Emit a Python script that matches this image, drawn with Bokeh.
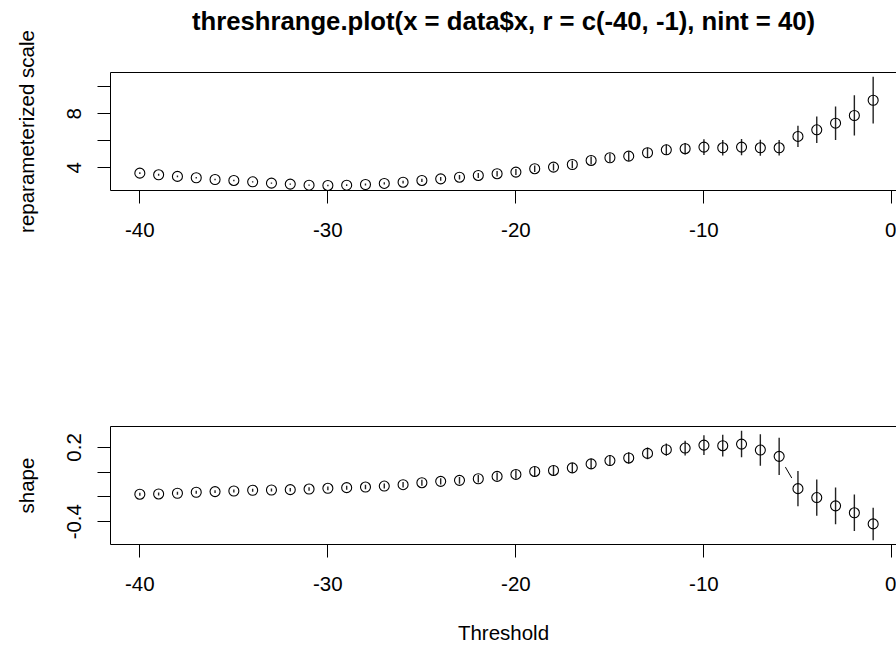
from bokeh.plotting import figure
from bokeh.models import LinearAxis, FixedTicker, Range1d
from bokeh.layouts import column
from bokeh.embed import file_html
from bokeh.resources import INLINE

# ---------------- data ----------------
thresholds = list(range(-40, 0))

scale_est = [3.60, 3.48, 3.36, 3.26, 3.13, 3.06, 2.96, 2.86, 2.79, 2.71,
             2.69, 2.71, 2.76, 2.84, 2.93, 3.06, 3.18, 3.30, 3.43, 3.56,
             3.68, 3.93, 4.05, 4.24, 4.54, 4.74, 4.86, 5.11, 5.33, 5.41,
             5.53, 5.48, 5.53, 5.48, 5.48, 6.32, 6.81, 7.30, 7.87, 9.00]
scale_hw = [0.07, 0.07, 0.06, 0.06, 0.06, 0.06, 0.05, 0.05, 0.05, 0.05,
            0.05, 0.06, 0.07, 0.08, 0.10, 0.12, 0.14, 0.16, 0.18, 0.20,
            0.22, 0.24, 0.26, 0.28, 0.30, 0.32, 0.34, 0.37, 0.39, 0.42,
            0.58, 0.58, 0.60, 0.59, 0.58, 0.79, 0.98, 1.24, 1.49, 1.73]

shape_est = [-0.178, -0.176, -0.170, -0.162, -0.157, -0.152, -0.146, -0.144, -0.141, -0.136,
             -0.130, -0.125, -0.120, -0.112, -0.101, -0.085, -0.074, -0.066, -0.053, -0.034,
             -0.018, 0.006, 0.014, 0.035, 0.067, 0.094, 0.115, 0.152, 0.182, 0.195,
             0.219, 0.214, 0.227, 0.179, 0.128, -0.133, -0.205, -0.272, -0.328, -0.418]
shape_hw = [0.012, 0.012, 0.012, 0.012, 0.012, 0.012, 0.013, 0.013, 0.014, 0.014,
            0.015, 0.016, 0.018, 0.020, 0.022, 0.024, 0.026, 0.028, 0.030, 0.032,
            0.034, 0.036, 0.038, 0.040, 0.042, 0.044, 0.046, 0.048, 0.050, 0.060,
            0.080, 0.088, 0.107, 0.127, 0.150, 0.143, 0.147, 0.148, 0.148, 0.131]

x_ticks = [-40, -30, -20, -10, 0]
x_tick_labels = ["-40", "-30", "-20", "-10", "0"]
scale_ticks = [4, 6, 8, 10]
scale_tick_labels = ["4", "", "8", ""]
shape_ticks = [-0.4, -0.2, 0.0, 0.2]
shape_tick_labels = ["-0.4", "", "", "0.2"]

title_text = "threshrange.plot(x = data$x, r = c(-40, -1), nint = 40)"
scale_label = "reparameterized scale"
shape_label = "shape"
x_label = "Threshold"

FONT = "Liberation Sans"
TICK_FS = "20.5px"
LAB_FS = "20.5px"


def r_range(lo, hi):
    pad = (hi - lo) * 0.04
    return lo - pad, hi + pad


# R plot region extends to 0.56 but the picture is cropped at the window edge
x_lo, x_hi = r_range(min(thresholds), max(thresholds))
VISIBLE_FRAC = 786.0 / 792.0
x_vis_hi = x_lo + (x_hi - x_lo) * VISIBLE_FRAC


def panel(est, hw, ticks, tick_labels, ylabel, height, top, bottom, xlabel=None, title=None):
    lower = [e - h for e, h in zip(est, hw)]
    upper = [e + h for e, h in zip(est, hw)]
    y_lo, y_hi = r_range(min(lower), max(upper))
    p = figure(width=896, height=height, output_backend="svg", toolbar_location=None,
               x_range=Range1d(x_lo, x_vis_hi), y_range=Range1d(y_lo, y_hi),
               min_border_left=110, min_border_right=0,
               min_border_top=top, min_border_bottom=bottom,
               outline_line_color=None, background_fill_color="white",
               border_fill_color="white")
    p.xgrid.visible = False
    p.ygrid.visible = False

    # type="b" style line with gaps around points
    p.line(thresholds, est, line_color="black", line_width=1)
    p.scatter(thresholds, est, marker="circle", size=25, fill_color="white",
              line_color=None)
    p.segment(x0=thresholds, y0=lower, x1=thresholds, y1=upper,
              line_color="#222222", line_width=1.4)
    p.scatter(thresholds, est, marker="circle", size=10, fill_color=None,
              line_color="black", line_width=1.1)

    xa = p.xaxis[0]
    xa.ticker = FixedTicker(ticks=x_ticks)
    xa.major_label_overrides = {t: l for t, l in zip(x_ticks, x_tick_labels)}
    xa.major_tick_out = 13
    xa.major_tick_in = 0
    xa.minor_tick_line_color = None
    xa.major_label_standoff = 19
    xa.major_label_text_font = FONT
    xa.major_label_text_font_size = TICK_FS
    xa.major_label_text_color = "black"
    xa.axis_line_color = "black"
    xa.major_tick_line_color = "black"
    if xlabel:
        xa.axis_label = xlabel
        xa.axis_label_text_font = FONT
        xa.axis_label_text_font_size = LAB_FS
        xa.axis_label_text_font_style = "normal"
        xa.axis_label_text_color = "black"
        xa.axis_label_standoff = 27

    ya = p.yaxis[0]
    ya.ticker = FixedTicker(ticks=ticks)
    ya.major_label_overrides = {t: l for t, l in zip(ticks, tick_labels)}
    ya.major_tick_out = 13
    ya.major_tick_in = 0
    ya.minor_tick_line_color = None
    ya.major_label_orientation = "vertical"
    ya.major_label_standoff = 16
    ya.major_label_text_font = FONT
    ya.major_label_text_font_size = TICK_FS
    ya.major_label_text_color = "black"
    ya.axis_line_color = "black"
    ya.major_tick_line_color = "black"
    ya.axis_label = ylabel
    ya.axis_label_text_font = FONT
    ya.axis_label_text_font_size = LAB_FS
    ya.axis_label_text_font_style = "normal"
    ya.axis_label_text_color = "black"
    ya.axis_label_standoff = 27

    # top edge of the box; in the upper panel it also carries the main title
    top_ax = LinearAxis(ticker=FixedTicker(ticks=[]), axis_line_color="black",
                        major_tick_line_color=None, minor_tick_line_color=None,
                        major_tick_out=0, major_tick_in=0,
                        major_label_standoff=0,
                        major_label_text_font_size="0px")
    if title:
        top_ax.axis_label = title
        top_ax.axis_label_text_font = FONT
        top_ax.axis_label_text_font_size = "25.7px"
        top_ax.axis_label_text_font_style = "bold"
        top_ax.axis_label_text_color = "black"
        top_ax.axis_label_standoff = 38
    p.add_layout(top_ax, "above")
    return p


p1 = panel(scale_est, scale_hw, scale_ticks, scale_tick_labels, scale_label,
           height=300, top=72, bottom=110, title=title_text)
p2 = panel(shape_est, shape_hw, shape_ticks, shape_tick_labels, shape_label,
           height=348, top=126, bottom=104, xlabel=x_label)

layout = column(p1, p2, spacing=0)
open("out.html", "w").write(file_html(layout, INLINE))
